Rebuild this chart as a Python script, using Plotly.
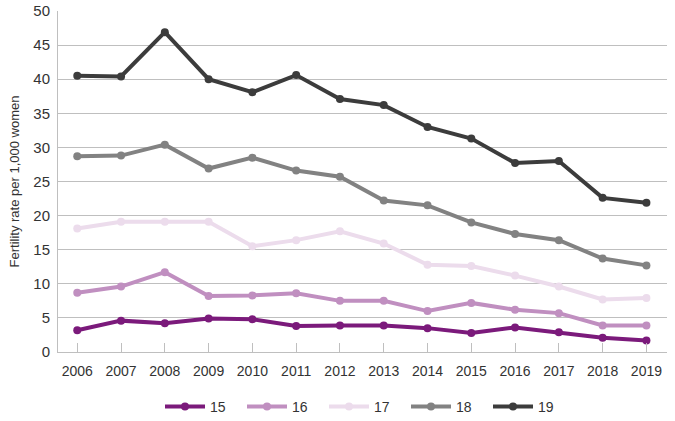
import plotly.graph_objects as go

years = [str(y) for y in range(2006, 2020)]
age15 = [3.2, 4.6, 4.2, 4.9, 4.8, 3.8, 3.9, 3.9, 3.5, 2.8, 3.6, 2.9, 2.1, 1.7]
age16 = [8.7, 9.6, 11.7, 8.2, 8.3, 8.6, 7.5, 7.5, 6.0, 7.2, 6.2, 5.7, 3.9, 3.9]
age17 = [18.1, 19.1, 19.1, 19.1, 15.5, 16.4, 17.7, 15.9, 12.8, 12.6, 11.2, 9.6, 7.7, 7.9]
age18 = [28.7, 28.8, 30.4, 26.9, 28.5, 26.6, 25.7, 22.2, 21.5, 19.0, 17.3, 16.4, 13.7, 12.7]
age19 = [40.5, 40.4, 46.9, 40.0, 38.1, 40.6, 37.1, 36.2, 33.0, 31.3, 27.7, 28.0, 22.6, 21.9]

series = [("15", age15, "#7b1a7b"), ("16", age16, "#c08fc0"), ("17", age17, "#ecdcec"),
          ("18", age18, "#828282"), ("19", age19, "#3c3c3c")]

fig = go.Figure()
for name, vals, col in series:
    fig.add_trace(go.Scatter(x=years, y=vals, name=name, mode="lines+markers",
                             line=dict(color=col, width=4), marker=dict(color=col, size=8)))

fig.update_layout(
    width=675, height=421,
    margin=dict(l=58, r=8, t=11, b=69, autoexpand=False),
    paper_bgcolor="white", plot_bgcolor="white",
    font=dict(family="Liberation Sans, Arial, sans-serif", size=13, color="#333333"),
    legend=dict(orientation="h", x=0.1675, xanchor="left", y=-0.161, yanchor="middle",
                font=dict(size=14), itemwidth=40, traceorder="normal",
                entrywidth=27, entrywidthmode="pixels"),
    showlegend=True,
)
fig.update_xaxes(type="category", range=[-0.44, 13.47], showgrid=False, showline=True,
                 linecolor="#bfbfbf", ticks="inside", ticklen=9, tickcolor="#bfbfbf",
                 tickfont=dict(size=14), ticklabelstandoff=6, automargin=False)
fig.update_yaxes(range=[0, 50], dtick=5, showgrid=True, gridcolor="#bfbfbf", showline=True,
                 linecolor="#bfbfbf", zeroline=False, ticks="", tickfont=dict(size=15),
                 ticklabelstandoff=4, automargin=False,
                 title=dict(text="Fertility rate per 1,000 women", font=dict(size=13), standoff=10))
fig.write_html("out.html", config={"displayModeBar": False},
               post_script="document.body.style.margin='0';")
